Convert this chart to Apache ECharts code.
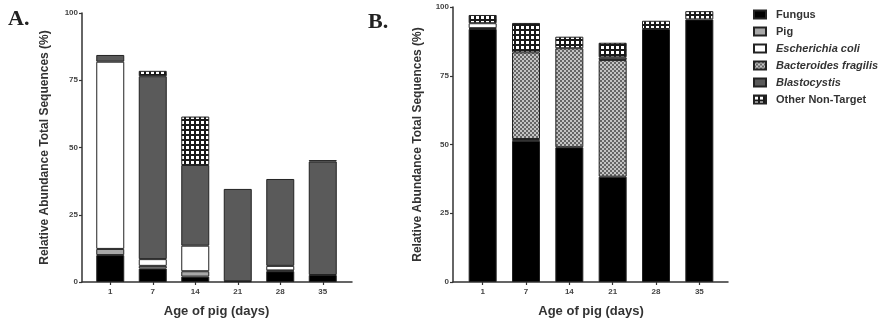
<!DOCTYPE html>
<html>
<head>
<meta charset="utf-8">
<script src="https://cdn.jsdelivr.net/npm/echarts@6/dist/echarts.min.js"></script>
<style>
  html, body { margin: 0; padding: 0; background: #fff; }
  #chart { width: 893px; height: 324px; }
</style>
</head>
<body>
<div id="chart"></div>
<script>
// categories (age of pig, days)
var days = ["1", "7", "14", "21", "28", "35"];
var taxa = ["Fungus", "Pig", "Escherichia coli", "Bacteroides fragilis", "Blastocystis", "Other Non-Target"];
var italicTaxa = ["Escherichia coli", "Bacteroides fragilis", "Blastocystis"];
var yTicks = [0, 25, 50, 75, 100];

// panel A values (%)
var fungusA = [10, 5, 2, 0.3, 4, 2.6];
var pigA    = [2.3, 1, 2, 0, 0.3, 0];
var ecoliA  = [69.6, 2.5, 9.5, 0, 1.7, 0];
var bfragA  = [0, 0, 0, 0, 0, 0];
var blastoA = [2.5, 68, 30, 34.3, 32.3, 42.2];
var otherA  = [0, 2, 18, 0, 0, 0.5];

// panel B values (%)
var fungusB = [92, 51.3, 49, 38.3, 92, 95.5];
var pigB    = [0.3, 0, 0, 0, 0, 0];
var ecoliB  = [1.8, 0.7, 0, 0, 0, 0];
var bfragB  = [0, 31.5, 36, 42.4, 0, 0];
var blastoB = [0, 0, 0, 1, 0, 0];
var otherB  = [3, 10.7, 4.2, 5.3, 3, 3];

function pattern(size, bg, fg, rects) {
  var c = document.createElement("canvas");
  c.width = size; c.height = size;
  var ctx = c.getContext("2d");
  ctx.fillStyle = bg; ctx.fillRect(0, 0, size, size);
  ctx.fillStyle = fg;
  rects.forEach(function (r) { ctx.fillRect(r[0], r[1], r[2], r[3]); });
  return { image: c, repeat: "repeat" };
}

var checker = pattern(4, "#c4c4c4", "#666666", [[0, 0, 2, 2], [2, 2, 2, 2]]);
var grid5 = pattern(5, "#1a1a1a", "#ffffff", [[1, 1, 3, 3]]);

var fills = ["#000000", "#a8a8a8", "#ffffff", checker, "#5a5a5a", grid5];

var font = "Liberation Sans, Arial, sans-serif";

var MyEcharts = echarts.init(document.getElementById("chart"));

function panelSeries(vals, xi, yi) {
  return vals.map(function (arr, i) {
    return {
      name: taxa[i],
      type: "bar",
      stack: "p" + xi,
      xAxisIndex: xi,
      yAxisIndex: yi,
      barWidth: 28,
      silent: true,
      itemStyle: { color: fills[i], borderColor: "#222", borderWidth: 1 },
      data: arr.map(function (v) { return v > 0 ? v : null; })
    };
  });
}

// helper axes draw the L-shaped frame, bar axes hold the data
function frameY(gi, name, gap) {
  return {
    type: "value", gridIndex: gi, min: 0, max: 100, interval: 25,
    name: name, nameLocation: "middle", nameGap: gap,
    nameTextStyle: { fontFamily: font, fontWeight: "bold", fontSize: 12, color: "#333" },
    axisLine: { show: true, lineStyle: { color: "#333", width: 1.5 } },
    axisTick: { show: true, length: 3, lineStyle: { color: "#333", width: 1.2 } },
    axisLabel: { fontFamily: font, fontSize: 8, fontWeight: "bold", color: "#444", margin: 4 },
    splitLine: { show: false }
  };
}
function frameX(gi) {
  return {
    type: "value", gridIndex: gi, min: 0, max: 1,
    axisLine: { show: true, onZero: false, lineStyle: { color: "#333", width: 1.5 } },
    axisTick: { show: false }, axisLabel: { show: false }, splitLine: { show: false }
  };
}
function barX(gi) {
  return {
    type: "category", gridIndex: gi, data: days,
    name: "Age of pig (days)", nameLocation: "middle", nameGap: 23,
    nameTextStyle: { fontFamily: font, fontWeight: "bold", fontSize: 13, color: "#333" },
    axisLine: { show: false },
    axisTick: { show: true, alignWithLabel: true, length: 3, lineStyle: { color: "#333", width: 1.2 } },
    axisLabel: { fontFamily: font, fontSize: 8, fontWeight: "bold", color: "#444", margin: 6 }
  };
}
function barY(gi) {
  return { type: "value", gridIndex: gi, min: 0, max: 100, show: false, splitLine: { show: false } };
}

var yTitle = "Relative Abundance Total Sequences (%)";

var option = {
  animation: false,
  backgroundColor: "#fff",
  grid: [
    { left: 82, width: 270, top: 13, height: 269 },
    { left: 89, width: 255, top: 13, height: 269 },
    { left: 453, width: 275, top: 7, height: 275 },
    { left: 461, width: 260, top: 7, height: 275 }
  ],
  xAxis: [frameX(0), barX(1), frameX(2), barX(3)],
  yAxis: [frameY(0, yTitle, 31), barY(1), frameY(2, yTitle, 29), barY(3)],
  legend: {
    data: taxa.map(function (n) { return { name: n, icon: "rect" }; }),
    orient: "vertical",
    left: 753, top: 9, padding: 0,
    itemWidth: 12, itemHeight: 8, itemGap: 6,
    selectedMode: false,
    formatter: function (n) {
      return italicTaxa.indexOf(n) >= 0 ? "{i|" + n + "}" : "{n|" + n + "}";
    },
    textStyle: {
      rich: {
        n: { fontFamily: font, fontWeight: "bold", fontSize: 11, lineHeight: 11, color: "#333", padding: [0, 0, 0, 5] },
        i: { fontFamily: font, fontWeight: "bold", fontStyle: "italic", fontSize: 11, lineHeight: 11, color: "#333", padding: [0, 0, 0, 5] }
      }
    }
  },
  graphic: [
    { type: "text", left: 8, top: 8, style: { text: "A.", font: "bold 22px 'Liberation Serif', serif", fill: "#222" } },
    { type: "text", left: 368, top: 11, style: { text: "B.", font: "bold 22px 'Liberation Serif', serif", fill: "#222" } }
  ],
  series: panelSeries([fungusA, pigA, ecoliA, bfragA, blastoA, otherA], 1, 1)
    .concat(panelSeries([fungusB, pigB, ecoliB, bfragB, blastoB, otherB], 3, 3))
};

MyEcharts.setOption(option);
</script>
</body>
</html>
